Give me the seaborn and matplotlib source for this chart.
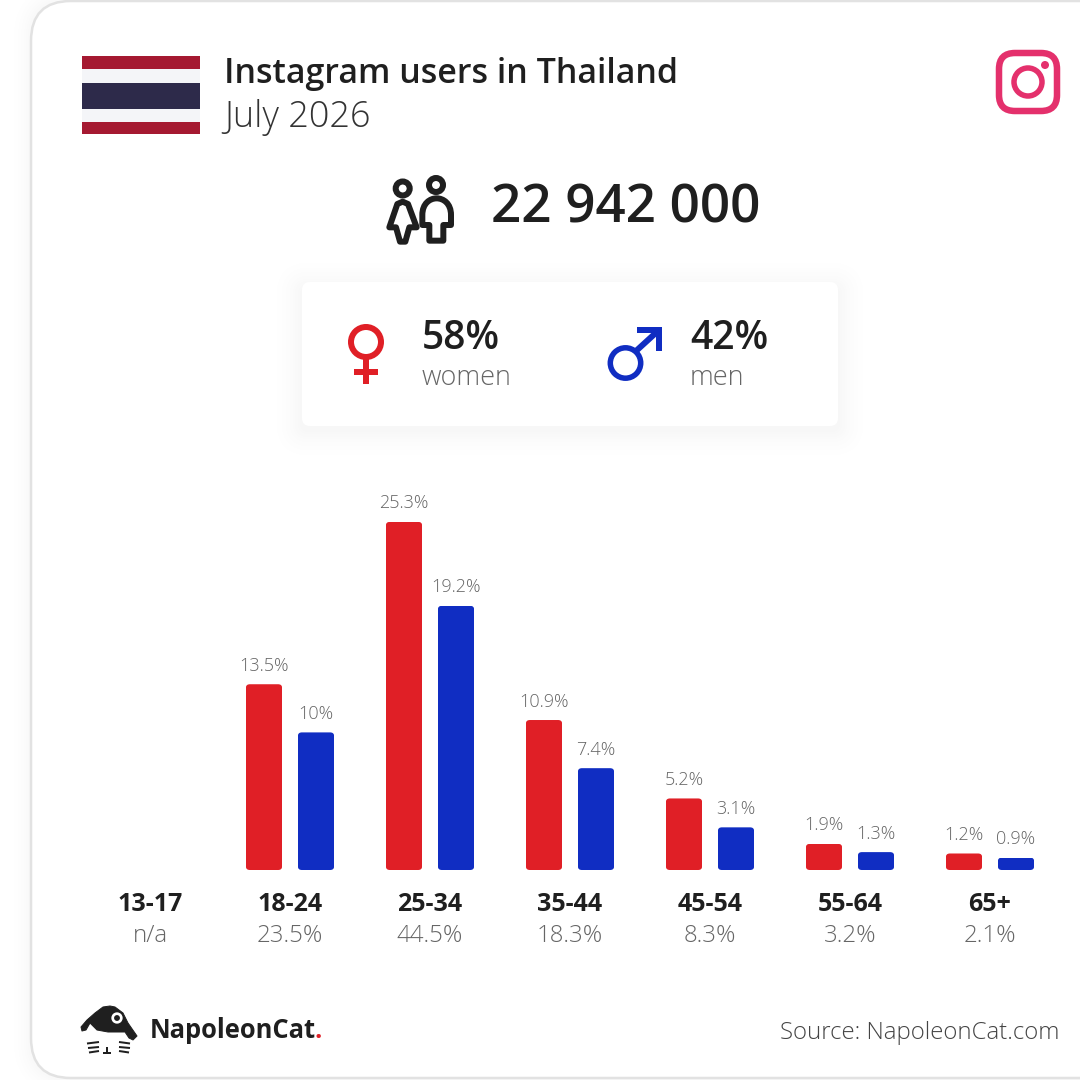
import matplotlib
matplotlib.use("Agg")
import numpy as np
import pandas as pd
import seaborn as sns
import matplotlib.pyplot as plt
from matplotlib.patches import FancyBboxPatch, Rectangle, Circle, PathPatch
from matplotlib.path import Path
from matplotlib.transforms import IdentityTransform

# data
age_groups = ["13-17", "18-24", "25-34", "35-44", "45-54", "55-64", "65+"]
women = [np.nan, 13.5, 25.3, 10.9, 5.2, 1.9, 1.2]
men = [np.nan, 10, 19.2, 7.4, 3.1, 1.3, 0.9]
totals = ["n/a", "23.5%", "44.5%", "18.3%", "8.3%", "3.2%", "2.1%"]

RED = "#e01f26"
BLUE = "#102dc2"
DARK = "#1f1f1f"
GREY = "#666666"
FONT = "Open Sans"


def pt(px):
    return px * 0.72


def rounded(x0, y0, x1, y1, r, **kw):
    return FancyBboxPatch((x0 + r, y0 + r), x1 - x0 - 2 * r, y1 - y0 - 2 * r,
                          boxstyle=f"round,pad={r},rounding_size={r}", **kw)


def soft_shadow(x0, y0, x1, y1, r, spread, depth):
    # opaque grey steps, alpha this low would round away to nothing
    for g in range(spread, 0, -1):
        level = 1 - depth * (1 - g / spread) ** 2
        bg.add_patch(rounded(x0 - g, y0 - g, x1 + g, y1 + g, r + g,
                             fc=(level, level, level), ec="none"))


sns.set_theme(style="white")
plt.rcParams["font.family"] = [FONT, "DejaVu Sans"]

fig = plt.figure(figsize=(10.8, 10.8), dpi=100, facecolor="white")

# background layer in pixel coordinates
bg = fig.add_axes([0, 0, 1, 1], zorder=0)
bg.set_xlim(0, 1080)
bg.set_ylim(1080, 0)
bg.axis("off")

# card with soft shadow
soft_shadow(31, 1, 1200, 1078, 40, 24, 0.03)
bg.add_patch(rounded(31, 1, 1200, 1078, 40, fc="white", ec="#e2e2e2", lw=pt(2.5)))

# flag
for y0, y1, col in [(56, 69, "#a51931"), (69, 83, "#f4f5f8"), (83, 109, "#2d2a4a"),
                    (109, 122, "#f4f5f8"), (122, 134, "#a51931")]:
    bg.add_patch(Rectangle((82, y0), 118, y1 - y0, fc=col, ec="none"))

# header text
bg.text(224, 74, "Instagram users in Thailand", fontsize=pt(34), fontweight="semibold",
        color=DARK, va="center", ha="left")
bg.text(224, 118, "July 2026", fontsize=pt(36), fontweight="light", color="#333333",
        va="center", ha="left")

# instagram icon
IG = "#e4306c"
bg.add_patch(rounded(999, 53, 1057, 111, 16, fc="none", ec=IG, lw=pt(6.5)))
bg.add_patch(Circle((1028, 82), 14, fc="none", ec=IG, lw=pt(5.5)))
bg.add_patch(Circle((1045, 65), 4, fc=IG, ec="none"))

# people icon
bg.add_patch(Circle((402.7, 188.5), 7, fc="none", ec=DARK, lw=pt(6)))
bg.add_patch(Circle((436, 185), 7, fc="none", ec=DARK, lw=pt(6)))
her = [(68, 95), (52, 102), (28, 172), (48, 172), (60, 215), (76, 215), (88, 172),
       (110, 172), (84, 102), (68, 95)]
her = [(380 + x / 3, 170 + y / 3) for x, y in her]
bg.add_patch(PathPatch(Path(her, closed=True), fc="none", ec=DARK, lw=pt(6), joinstyle="round"))
him = [(127, 165), (127, 135), (127, 100), (150, 85), (170, 85), (190, 85), (213, 100),
       (213, 135), (213, 165), (190, 165), (190, 212), (148, 212), (148, 165), (127, 165)]
him = [(380 + x / 3, 170 + y / 3) for x, y in him]
codes = [Path.MOVETO, Path.LINETO, Path.CURVE4, Path.CURVE4, Path.CURVE4, Path.CURVE4,
         Path.CURVE4, Path.CURVE4, Path.LINETO, Path.LINETO, Path.LINETO, Path.LINETO,
         Path.LINETO, Path.CLOSEPOLY]
bg.add_patch(PathPatch(Path(him, codes), fc="none", ec=DARK, lw=pt(6), joinstyle="round"))

bg.text(491, 209, "22 942 000", fontsize=pt(53), fontweight="semibold", color=DARK,
        va="center", ha="left")

# gender box
soft_shadow(302, 288, 838, 430, 8, 34, 0.035)
bg.add_patch(rounded(302, 282, 838, 426, 8, fc="white", ec="none"))

bg.add_patch(Circle((366, 342), 15, fc="none", ec=RED, lw=pt(6)))
bg.plot([366, 366], [357, 384], color=RED, lw=pt(6), solid_capstyle="butt")
bg.plot([354, 378], [372, 372], color=RED, lw=pt(6), solid_capstyle="butt")
bg.add_patch(Circle((625.5, 363), 15.2, fc="none", ec=BLUE, lw=pt(5.5)))
bg.plot([636, 659], [351, 330], color=BLUE, lw=pt(6), solid_capstyle="butt")
bg.plot([637, 662], [330, 330], color=BLUE, lw=pt(6), solid_capstyle="butt")
bg.plot([659, 659], [327, 351], color=BLUE, lw=pt(6), solid_capstyle="butt")

bg.text(422, 339, "58%", fontsize=pt(39), fontweight="semibold", color=DARK, va="center", ha="left")
bg.text(422, 378, "women", fontsize=pt(27), fontweight="light", color=GREY, va="center", ha="left")
bg.text(690, 339, "42%", fontsize=pt(39), fontweight="semibold", color=DARK, va="center", ha="left")
bg.text(690, 378, "men", fontsize=pt(27), fontweight="light", color=GREY, va="center", ha="left")

# cat logo
head = [(81, 1027), (87, 1020), (95, 1013), (103, 1007), (110, 1006), (115, 1007), (123, 1013),
        (128, 1023), (137, 1036), (133, 1040), (129, 1038), (125, 1032), (108, 1032), (97, 1030),
        (90, 1023), (86, 1030), (82, 1031)]
bg.fill(*zip(*head), fc=DARK, ec=DARK, lw=pt(1), joinstyle="round")
bg.add_patch(Circle((117, 1018), 4.3, fc=DARK, ec="white", lw=pt(2.7)))
for x0, y0, x1, y1 in [(87, 1043.5, 99, 1042), (88, 1048, 99, 1047), (89, 1052.5, 99, 1051),
                       (130, 1043.5, 119, 1042), (130, 1048, 119, 1047), (129, 1052.5, 119, 1051),
                       (107, 1047, 107, 1053), (103, 1053, 111, 1053)]:
    bg.plot([x0, x1], [y0, y1], color=DARK, lw=pt(2), solid_capstyle="butt")

logo = bg.text(150, 1031, "NapoleonCat", fontsize=pt(25.5), fontweight="bold", color=DARK,
               va="center", ha="left")
bg.text(315, 1031, ".", fontsize=pt(25.5), fontweight="bold", color=RED, va="center", ha="left")
bg.text(1059, 1033, "Source: NapoleonCat.com", fontsize=pt(24), fontweight="light",
        color="#444444", va="center", ha="right")

# chart layer
df = pd.DataFrame({
    "age": age_groups * 2,
    "share": women + men,
    "gender": ["women"] * len(women) + ["men"] * len(men),
})

ax = fig.add_axes([80 / 1080, 210 / 1080, 980 / 1080, 400 / 1080], zorder=1)
ax.patch.set_alpha(0)
sns.barplot(data=df, x="age", y="share", hue="gender", order=age_groups,
            hue_order=["women", "men"], palette=[RED, BLUE], width=0.743, gap=0.3,
            saturation=1, errorbar=None, legend=False, linewidth=0, ax=ax)
ax.set_xlim(-0.5, 6.5)
ax.set_ylim(0, 400 / 13.76)
ax.set_xlabel("")
ax.set_ylabel("")
ax.set_yticks([])
sns.despine(ax=ax, left=True, bottom=True)
ax.tick_params(axis="x", length=0, pad=pt(22))
ax.set_xticks(range(len(age_groups)), age_groups, fontsize=pt(25), fontweight="bold", color=DARK)

for c in ax.containers:
    ax.bar_label(c, fmt=lambda v: f"{v:g}%", padding=pt(9.5), fontsize=pt(18),
                 fontweight="light", color=GREY)

for i, t in enumerate(totals):
    ax.annotate(t, (i, 0), xytext=(0, -pt(66)), textcoords="offset points", ha="center",
                va="center", fontsize=pt(24), fontweight="light", color=GREY, annotation_clip=False)

# rounded bar corners
fig.canvas.draw()
for bar in ax.patches:
    (x0, y0), (x1, y1) = ax.transData.transform(
        [(bar.get_x(), bar.get_y()), (bar.get_x() + bar.get_width(), bar.get_height())])
    if np.isnan(y1):
        continue
    bar.set_clip_path(rounded(x0, y0, x1, y1, 4, transform=IdentityTransform()))

fig.savefig("out.png", dpi=100)
